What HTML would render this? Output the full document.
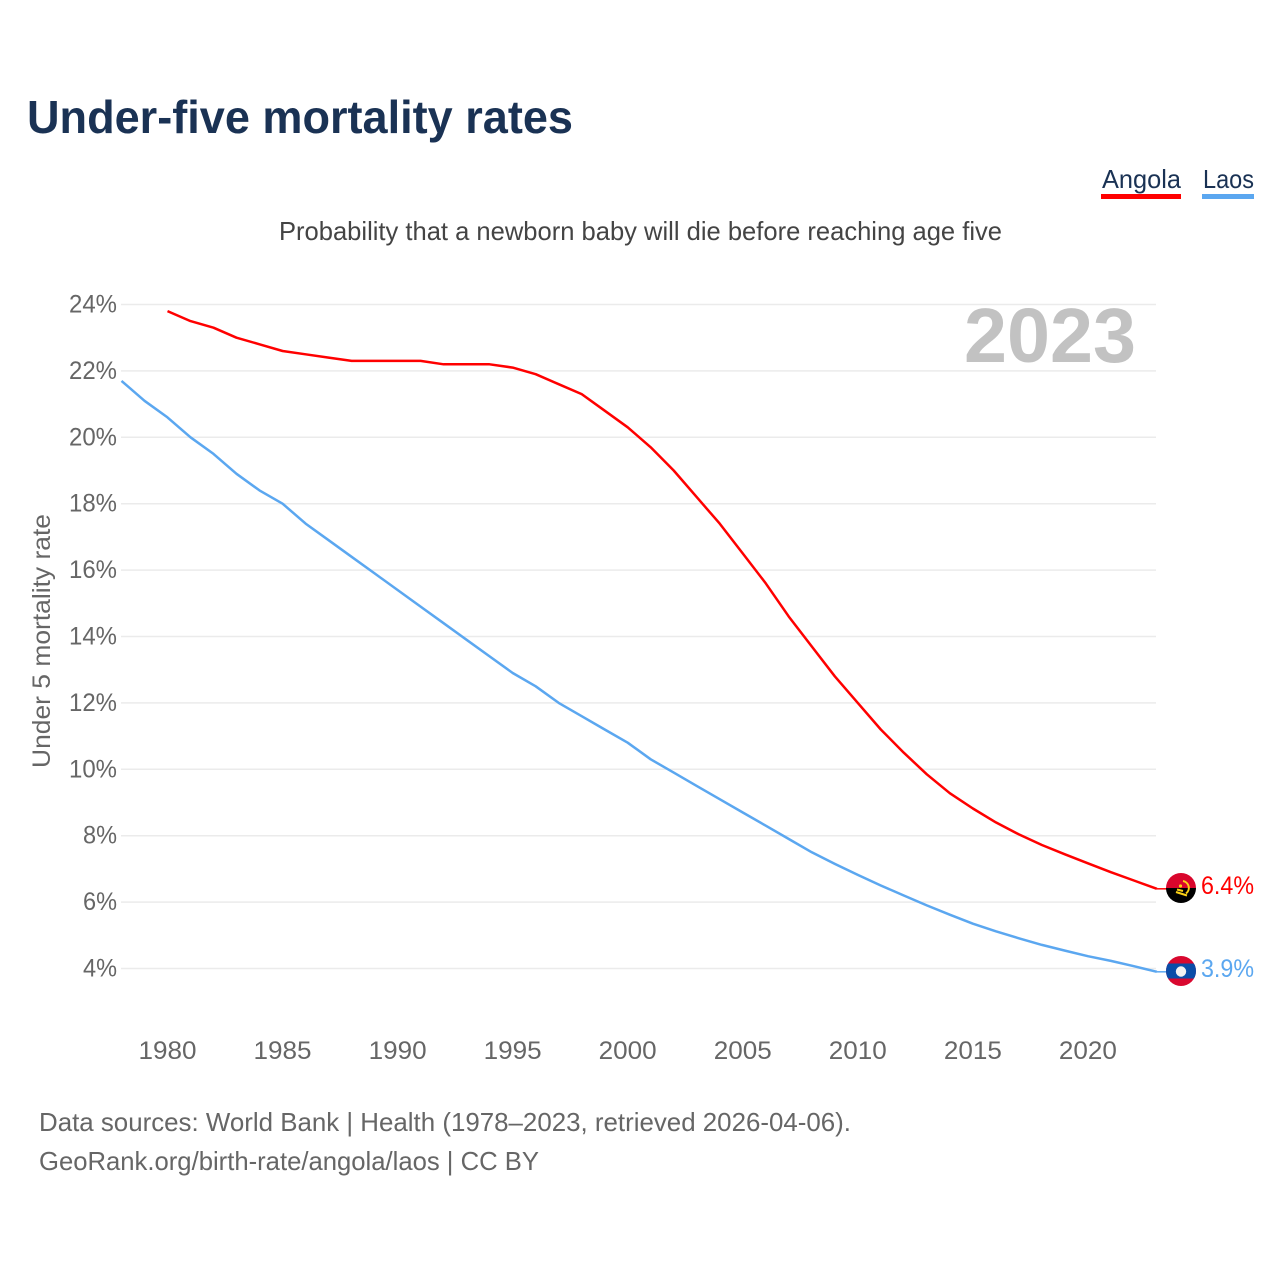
<!DOCTYPE html>
<html lang="en">
<head>
<meta charset="utf-8">
<title>Under-five mortality rates</title>
<style>
html,body{margin:0;padding:0;background:#fff;}
svg{display:block;}
text{font-family:"Liberation Sans",sans-serif;}
</style>
</head>
<body>
<svg id="chart" width="1280" height="1280" viewBox="0 0 1280 1280" xmlns="http://www.w3.org/2000/svg">
  <rect width="1280" height="1280" fill="#fff"/>
  <text x="27" y="133" font-size="46" font-weight="700" fill="#1a3254" textLength="546" lengthAdjust="spacingAndGlyphs">Under-five mortality rates</text>
  <g>
    <text x="1102" y="188" font-size="26" fill="#1a3254" textLength="79" lengthAdjust="spacingAndGlyphs">Angola</text>
    <rect x="1101" y="194" width="80" height="5" fill="#ff0000"/>
    <text x="1203" y="188" font-size="26" fill="#1a3254" textLength="51" lengthAdjust="spacingAndGlyphs">Laos</text>
    <rect x="1202" y="194" width="52" height="5" fill="#5ba7f0"/>
  </g>
  <text x="279" y="240" font-size="26" fill="#444" textLength="723" lengthAdjust="spacingAndGlyphs">Probability that a newborn baby will die before reaching age five</text>
  <g id="grid"></g>
  <g id="yticks"></g>
  <g id="xticks"></g>
  <text transform="translate(50,768) rotate(-90)" font-size="25" fill="#666" textLength="254" lengthAdjust="spacingAndGlyphs">Under 5 mortality rate</text>
  <text x="964" y="362" font-size="77" font-weight="700" fill="#c2c2c2" textLength="172" lengthAdjust="spacingAndGlyphs">2023</text>
  <g id="series"></g>
  <defs>
    <clipPath id="flag-clip-ao"><circle cx="1181" cy="888" r="15"/></clipPath>
    <clipPath id="flag-clip-la"><circle cx="1181" cy="971" r="15"/></clipPath>
  </defs>
  <g clip-path="url(#flag-clip-ao)">
    <rect x="1166" y="873" width="30" height="15" fill="#d9062c"/>
    <rect x="1166" y="888" width="30" height="15" fill="#000"/>
    <path d="M1183 881a7 7 0 0 1 3 12.500" fill="none" stroke="#fcd116" stroke-width="2"/>
    <path d="M1176 892l11 3.500M1177 889.500l6 1.500" fill="none" stroke="#fcd116" stroke-width="2"/>
    <circle cx="1180.500" cy="886" r="1.600" fill="#fcd116"/>
  </g>
  <g clip-path="url(#flag-clip-la)">
    <rect x="1166" y="956" width="30" height="30" fill="#d9082f"/>
    <rect x="1166" y="963.500" width="30" height="15" fill="#0a4da8"/>
    <circle cx="1181" cy="971.500" r="5.200" fill="#f2f2f2"/>
  </g>
  <text id="end-label-angola" x="1201" y="894" font-size="25" fill="#ff0000" textLength="53" lengthAdjust="spacingAndGlyphs">6.4%</text>
  <text id="end-label-laos" x="1201" y="977" font-size="25" fill="#5ba7f0" textLength="53" lengthAdjust="spacingAndGlyphs">3.9%</text>
  <g>
    <text x="39" y="1131" font-size="26" fill="#666" textLength="812" lengthAdjust="spacingAndGlyphs">Data sources: World Bank | Health (1978–2023, retrieved 2026-04-06).</text>
    <text x="39" y="1170" font-size="26" fill="#666" textLength="500" lengthAdjust="spacingAndGlyphs">GeoRank.org/birth-rate/angola/laos | CC BY</text>
  </g>
</svg>
<script>
const yTickValues = [24, 22, 20, 18, 16, 14, 12, 10, 8, 6, 4];
const xTickYears = [1980, 1985, 1990, 1995, 2000, 2005, 2010, 2015, 2020];
const angolaStartYear = 1980;
const angolaValues = [23.8, 23.5, 23.3, 23.0, 22.8, 22.6, 22.5, 22.4, 22.3, 22.3, 22.3, 22.3, 22.2, 22.2, 22.2, 22.1, 21.9, 21.6, 21.3, 20.8, 20.3, 19.7, 19.0, 18.2, 17.4, 16.5, 15.6, 14.6, 13.7, 12.8, 12.0, 11.2, 10.5, 9.85, 9.28, 8.82, 8.4, 8.04, 7.72, 7.44, 7.17, 6.9, 6.65, 6.4];
const laosStartYear = 1978;
const laosValues = [21.7, 21.1, 20.6, 20.0, 19.5, 18.9, 18.4, 18.0, 17.4, 16.9, 16.4, 15.9, 15.4, 14.9, 14.4, 13.9, 13.4, 12.9, 12.5, 12.0, 11.6, 11.2, 10.8, 10.3, 9.9, 9.5, 9.1, 8.7, 8.3, 7.9, 7.5, 7.15, 6.82, 6.5, 6.2, 5.9, 5.62, 5.35, 5.12, 4.91, 4.71, 4.54, 4.37, 4.23, 4.07, 3.9];

const NS = 'http://www.w3.org/2000/svg';
function xScale(year) { return 167.5 + (year - 1980) * 23.01; }
function yScale(value) { return 304.5 + (24 - value) * 33.2; }
function make(tag, attrs, parent) {
  const el = document.createElementNS(NS, tag);
  for (const k in attrs) el.setAttribute(k, attrs[k]);
  parent.appendChild(el);
  return el;
}
const grid = document.getElementById('grid');
const yticks = document.getElementById('yticks');
const xticks = document.getElementById('xticks');
const series = document.getElementById('series');

yTickValues.forEach(function (v) {
  const line = make('line', {x1: 121, x2: 1156, y1: yScale(v), y2: yScale(v), stroke: '#ebebeb', 'stroke-width': 1.5}, grid);
  
  
  const label = make('text', {x: 117, y: yScale(v) + 8, 'text-anchor': 'end', 'font-size': 25, fill: '#666', textLength: v >= 10 ? 48 : 34, lengthAdjust: 'spacingAndGlyphs'}, yticks);
  label.textContent = v + '%';
  
  
});
xTickYears.forEach(function (y) {
  const label = make('text', {x: xScale(y), y: 1059, 'text-anchor': 'middle', 'font-size': 25, fill: '#666', textLength: 58, lengthAdjust: 'spacingAndGlyphs'}, xticks);
  label.textContent = y;
  
  
});
function linePath(values, startYear) {
  return values.map(function (v, i) {
    return (i ? 'L' : 'M') + xScale(startYear + i).toFixed(1) + ' ' + yScale(v).toFixed(1);
  }).join('');
}
const laosLine = make('path', {d: linePath(laosValues, laosStartYear), fill: 'none', stroke: '#5ba7f0', 'stroke-width': 2.5, 'stroke-linejoin': 'round'}, series);


const angolaLine = make('path', {d: linePath(angolaValues, angolaStartYear), fill: 'none', stroke: '#ff0000', 'stroke-width': 2.5, 'stroke-linejoin': 'round'}, series);


const angolaLast = angolaValues[angolaValues.length - 1];
const laosLast = laosValues[laosValues.length - 1];
const angolaLeader = make('line', {x1: 1157, x2: 1168, y1: yScale(angolaLast), y2: yScale(angolaLast), stroke: '#ff0000', 'stroke-width': 1.5}, series);


const laosLeader = make('line', {x1: 1157, x2: 1168, y1: yScale(laosLast), y2: yScale(laosLast), stroke: '#5ba7f0', 'stroke-width': 1.5}, series);


document.getElementById('end-label-angola').textContent = angolaLast.toFixed(1) + '%';
document.getElementById('end-label-laos').textContent = laosLast.toFixed(1) + '%';
</script>
</body>
</html>
